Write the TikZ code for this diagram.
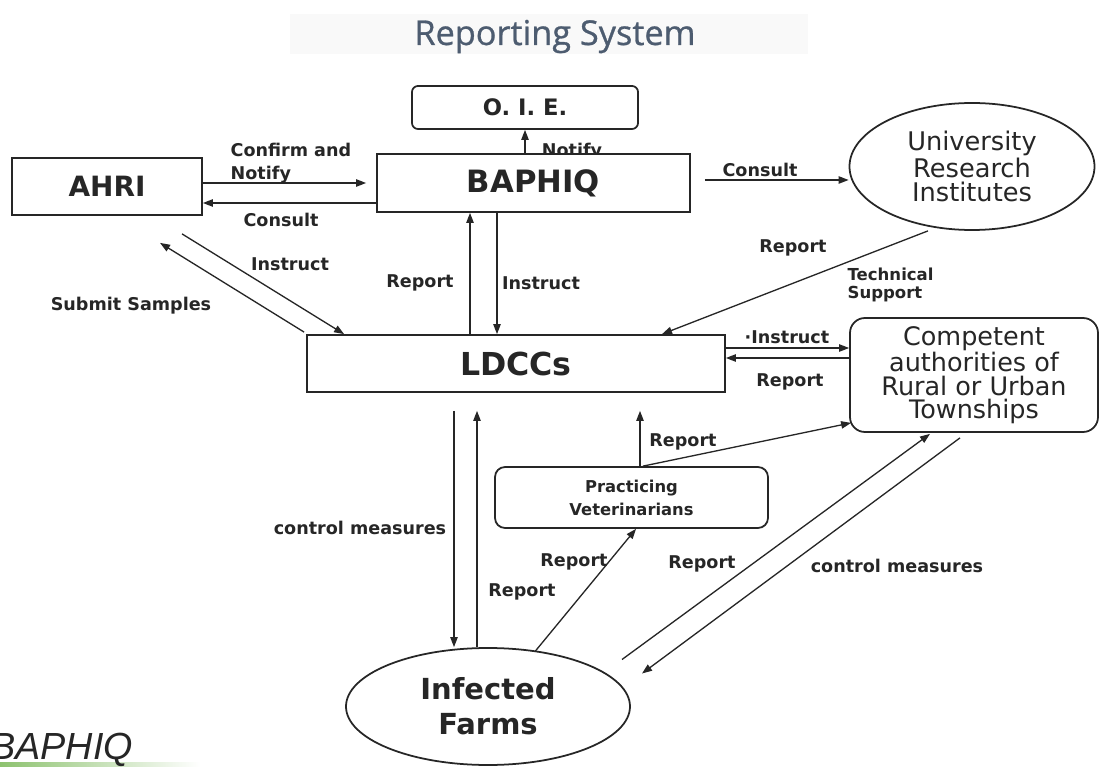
\documentclass[tikz,border=0pt]{standalone}
\usepackage{fontspec}
\setmainfont{DejaVu Sans}
\newfontfamily\titlefont[FakeBold=0.8]{Open Sans}
\newfontfamily\arialfont{Liberation Sans}
\usetikzlibrary{arrows.meta,shapes.geometric,calc,backgrounds}
\newlength{\pxu}\setlength{\pxu}{0.02cm}
\definecolor{ink}{HTML}{262626}
\definecolor{titleblue}{HTML}{4D5C70}
\definecolor{bargreen}{HTML}{8DC26F}
\begin{document}
\begin{tikzpicture}[x=0.02cm,y=-0.02cm,
  arr/.style={draw=ink, line width=0.75pt, -{Triangle[length=5.7pt,width=4.2pt]}},
  box/.style={draw=ink, line width=1pt, fill=white, inner sep=0pt, align=center, text=ink},
  lbl/.style={font=\bfseries\fontsize{10}{12}\selectfont, text=ink, inner sep=0pt},
  smalllbl/.style={font=\bfseries\fontsize{9.4}{10.2}\selectfont, text=ink, inner sep=0pt, align=left},
]
\useasboundingbox (0,0) rectangle (1100,767);
\begin{scope}[on background layer]
  \fill[white] (0,0) rectangle (1100,767);
  \fill[gray!5] (290,14) rectangle (808,54);
  \node[lbl, anchor=base] (notifyoie) at (572,157) {Notify};
\end{scope}

% title
\node[font=\titlefont\fontsize{19.5}{23}\selectfont, text=titleblue, anchor=base] (title) at (555,45) {Reporting System};

% nodes
\node[box, rounded corners=3.4pt, minimum width=226\pxu, minimum height=43\pxu,
      font=\bfseries\fontsize{12.9}{15}\selectfont] (oie) at (525,107.5) {O. I. E.};
\node[box, minimum width=190\pxu, minimum height=57\pxu,
      font=\bfseries\fontsize{15.9}{18}\selectfont] (ahri) at (107,186.5) {AHRI};
\node[box, minimum width=313\pxu, minimum height=58\pxu,
      font=\bfseries\fontsize{17.5}{20}\selectfont] (baphiq) at (533.5,183) {BAPHIQ};
\node[box, ellipse, minimum width=245\pxu, minimum height=127\pxu,
      font=\fontsize{14.6}{13.6}\selectfont] (uni) at (972,166.5) {University\\Research\\Institutes};
\node[box, minimum width=418\pxu, minimum height=57\pxu,
      font=\bfseries\fontsize{18}{20}\selectfont] (ldcc) at (516,363.5) {LDCCs};
\node[box, rounded corners=8.5pt, minimum width=248\pxu, minimum height=114\pxu,
      font=\fontsize{14.5}{13.2}\selectfont] (comp) at (974,375) {Competent\\authorities of\\Rural or Urban\\Townships};
\node[box, rounded corners=5.7pt, minimum width=273\pxu, minimum height=61\pxu,
      font=\bfseries\fontsize{9.3}{13}\selectfont] (prac) at (631.5,497.5) {Practicing\\Veterinarians};
\node[box, ellipse, minimum width=284\pxu, minimum height=117\pxu,
      font=\bfseries\fontsize{16.5}{20}\selectfont] (farm) at (488,706.5) {Infected\\Farms};

% AHRI <-> BAPHIQ
\draw[arr, shorten >=10\pxu] (ahri.east |- 0,183) -- (baphiq.west |- 0,183)
  node[lbl, anchor=base west, at={(230,157)}] {Confirm and}
  node[lbl, anchor=base west, at={(230,180)}] {Notify};
\draw[arr] (baphiq.west |- 0,203) -- (ahri.east |- 0,203)
  node[lbl, at={(281,220)}] {Consult};

% BAPHIQ -> OIE
\draw[arr] (oie.south |- baphiq.north) -- (oie.south);

% BAPHIQ -> University
\draw[arr, shorten <=14\pxu] (baphiq.east |- 0,180) -- (uni.west |- 0,180)
  node[lbl, anchor=base, at={(760,177)}] {Consult};

% AHRI <-> LDCCs
\draw[arr] ($(ahri.south)+(75,18)$) -- ($(ldcc.north west)+(38,0)$)
  node[lbl, at={(290,264)}] {Instruct};
\draw[arr] ($(ldcc.north west)+(-2,-2)$) -- ($(ahri.south)+(53,27)$)
  node[lbl, at={(131,306)}] {Submit Samples};

% BAPHIQ <-> LDCCs
\draw[arr] (ldcc.north -| 470,0) -- (baphiq.south -| 470,0)
  node[lbl, at={(420,283)}] {Report};
\draw[arr] (baphiq.south -| 497,0) -- (ldcc.north -| 497,0)
  node[lbl, at={(541,283)}] {Instruct};

% University -> LDCCs
\draw[arr] ($(uni.south)+(-44,0)$) -- ($(ldcc.north)+(146,0)$)
  node[lbl, at={(793,248)}] {Report}
  node[smalllbl, anchor=base west, at={(847,280)}] {Technical}
  node[smalllbl, anchor=base west, at={(847,298)}] {Support};

% LDCCs <-> Competent
\draw[arr] (ldcc.east |- 0,348) -- (comp.west |- 0,348)
  node[lbl, at={(787,337)}] {·Instruct};
\draw[arr] (comp.west |- 0,358) -- (ldcc.east |- 0,358)
  node[lbl, at={(790,382)}] {Report};

% LDCCs <-> Farms
\draw[arr, shorten <=18\pxu] (ldcc.south -| 454,0) -- (farm.north -| 454,0)
  node[lbl, at={(360,528)}] {control measures};
\draw[arr, shorten >=18\pxu] (farm.north -| 477,0) -- (ldcc.south -| 477,0)
  node[lbl, at={(522,592)}] {Report};

% Practicing -> LDCCs, Competent
\draw[arr, shorten >=18\pxu] (prac.north -| 640,0) -- (ldcc.south -| 640,0)
  node[lbl, at={(683,442)}] {Report};
\draw[arr] (prac.north -| 643,0) -- ($(comp.south west)+(2,-10)$);

% Farms -> Practicing
\draw[arr] ($(farm.center)+(47,-55)$) -- (prac.south -| 636,0)
  node[lbl, at={(574,562)}] {Report};

% Farms <-> Competent
\draw[arr] ($(farm.center)+(134,-47)$) -- ($(comp.south)+(-44,1)$)
  node[lbl, at={(702,564)}] {Report};
\draw[arr] ($(comp.south)+(-14,5)$) -- ($(farm.center)+(154,-33)$)
  node[lbl, at={(897,566)}] {control measures};

% bottom-left brand
\fill[left color=bargreen, right color=white] (0,762) rectangle (200,767);
\node[font=\arialfont\itshape\fontsize{21.5}{24}\selectfont, text=ink, anchor=base west, inner sep=0pt] (brand) at (-10,759) {BAPHIQ};
\end{tikzpicture}
\end{document}
